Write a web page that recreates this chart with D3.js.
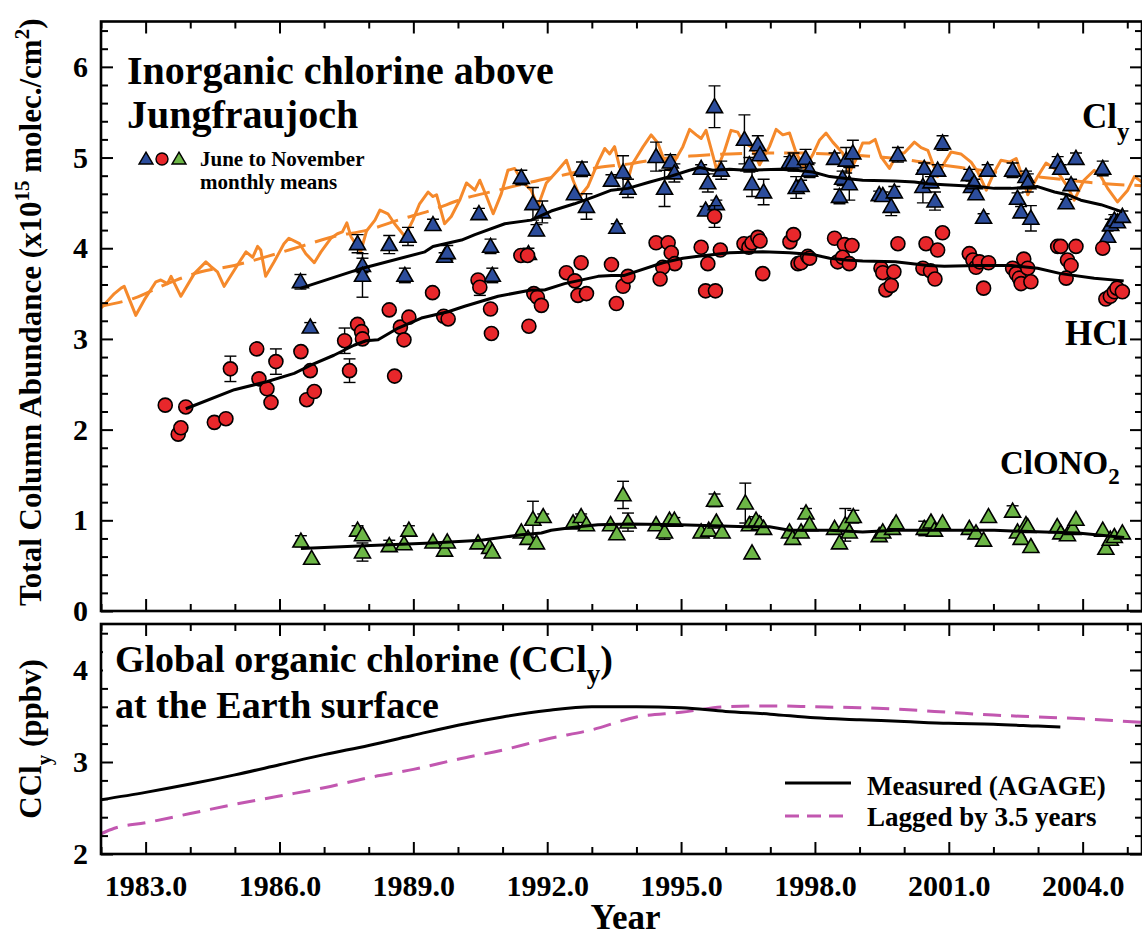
<!DOCTYPE html>
<html>
<head>
<meta charset="utf-8">
<script src="https://cdn.jsdelivr.net/npm/d3@7"></script>
<style>
  html, body { margin: 0; padding: 0; background: #ffffff; }
  svg { display: block; }
  text { font-family: "Liberation Serif", "Times New Roman", serif; font-weight: bold; fill: #000; }
</style>
</head>
<body>
<script>
// ---------- data ----------
// Jungfraujoch June–November monthly means: [decimal year, column (1e15 molec/cm2), error half-width]
const clyPoints = [
  [1986.47,3.63,0.08],[1986.69,3.13,0.05],[1987.75,4.05,0.10],[1987.86,3.81,0.08],[1987.86,3.70,0.24],
  [1988.46,4.04,0.10],[1988.81,3.70,0.08],[1988.88,4.13,0.10],[1989.44,4.26,0.06],[1989.70,3.91,0.04],
  [1989.76,3.95,0.08],[1990.47,4.38,0.06],[1990.73,4.02,0.08],[1990.77,3.70,0.08],[1991.42,4.78,0.08],
  [1991.58,3.94,0.06],[1991.68,4.49,0.18],[1991.76,4.20,0.06],[1991.89,4.40,0.12],[1992.61,4.60,0],
  [1992.78,4.87,0.08],[1992.88,4.46,0.14],[1993.44,4.75,0.06],[1993.56,4.23,0.04],[1993.70,4.84,0.18],
  [1993.81,4.66,0.10],[1994.44,5.01,0.16],[1994.63,4.66,0.20],[1994.76,4.95,0.08],[1994.85,4.83,0.10],
  [1995.45,4.88,0.04],[1995.60,4.72,0.10],[1995.55,4.42,0.04],[1995.79,4.49,0.04],[1995.75,5.56,0.23],
  [1995.90,4.86,0.10],[1996.42,5.20,0.27],[1996.53,4.92,0.08],[1996.59,4.71,0.14],[1996.72,5.14,0.10],
  [1996.77,5.03,0],[1996.85,4.62,0.14],[1997.43,4.95,0.06],[1997.52,4.95,0.10],[1997.58,4.67,0.12],
  [1997.69,4.69,0.06],[1997.79,4.99,0.10],[1997.88,4.86,0.08],[1998.44,4.99,0.06],[1998.62,4.77,0.08],
  [1998.55,4.57,0.08],[1998.70,4.97,0.14],[1998.77,4.71,0.18],[1998.85,5.05,0.14],[1999.44,4.59,0.04],
  [1999.52,4.58,0.04],[1999.71,4.46,0.10],[1999.78,4.62,0.06],[1999.86,5.03,0.08],[2000.45,4.88,0.06],
  [2000.42,4.68,0.18],[2000.60,4.73,0.06],[2000.69,4.52,0.10],[2000.86,5.16,0.08],[2000.75,4.86,0.06],
  [2001.46,4.81,0.06],[2001.51,4.68,0.06],[2001.61,4.60,0.06],[2001.57,4.72,0.04],[2001.78,4.34,0.04],
  [2001.87,4.86,0.06],[2002.43,4.86,0.08],[2002.54,4.55,0.06],[2002.62,4.40,0.06],[2002.73,4.79,0.06],
  [2002.77,4.72,0.10],[2002.84,4.33,0.14],[2003.44,4.95,0.06],[2003.51,4.88,0.04],[2003.63,4.50,0.04],
  [2003.74,4.70,0.06],[2003.85,4.99,0.06],[2004.45,4.88,0.08],[2004.56,4.13,0.06],[2004.63,4.26,0.06],
  [2004.71,4.31,0.06],[2004.78,4.29,0.06],[2004.89,4.35,0.06]
];

const hclPoints = [
  [1983.44,2.27,0],[1983.73,1.95,0],[1983.79,2.02,0],[1983.90,2.25,0],[1984.54,2.08,0],[1984.80,2.12,0],
  [1984.90,2.67,0.14],[1985.49,2.89,0],[1985.54,2.56,0],[1985.72,2.45,0],[1985.81,2.30,0],[1985.92,2.75,0.14],
  [1986.48,2.86,0],[1986.61,2.33,0],[1986.69,2.65,0],[1986.78,2.42,0],[1987.46,2.98,0.14],[1987.57,2.65,0.13],
  [1987.75,3.16,0.05],[1987.84,3.08,0],[1987.86,3.00,0],[1988.46,3.32,0],[1988.58,2.59,0.03],[1988.71,3.13,0],
  [1988.79,2.99,0],[1988.90,3.24,0],[1989.43,3.51,0],[1989.68,3.25,0],[1989.78,3.22,0],[1990.45,3.65,0],
  [1990.49,3.57,0.09],[1990.73,3.33,0],[1990.75,3.06,0],[1991.41,3.92,0],[1991.56,3.92,0],[1991.59,3.14,0],
  [1991.70,3.50,0],[1991.78,3.46,0],[1991.87,3.37,0],[1992.43,3.73,0],[1992.62,3.64,0],[1992.76,3.84,0],
  [1992.69,3.48,0],[1992.88,3.50,0],[1993.44,3.82,0],[1993.55,3.39,0],[1993.70,3.58,0],[1993.81,3.69,0],
  [1994.44,4.06,0.04],[1994.71,4.06,0],[1994.78,3.95,0],[1994.86,3.83,0],[1994.59,3.79,0],[1994.53,3.66,0],
  [1995.45,4.01,0],[1995.60,3.83,0],[1995.55,3.53,0],[1995.77,3.53,0],[1995.75,4.35,0.12],[1995.88,3.98,0],
  [1996.41,4.05,0],[1996.52,4.01,0],[1996.59,4.06,0],[1996.72,4.12,0],[1996.77,4.08,0],[1996.83,3.72,0],
  [1997.44,4.07,0],[1997.52,4.15,0],[1997.62,3.83,0],[1997.69,3.84,0],[1997.84,3.91,0],[1997.88,3.89,0],
  [1998.44,4.11,0],[1998.66,4.04,0],[1998.83,4.03,0],[1998.51,3.85,0],[1998.62,3.90,0],[1998.77,3.83,0],
  [1999.48,3.78,0],[1999.52,3.73,0],[1999.59,3.54,0],[1999.71,3.59,0],[1999.77,3.74,0],[1999.86,4.05,0],
  [2000.49,4.05,0],[2000.75,3.98,0],[2000.86,4.17,0],[2000.42,3.78,0],[2000.59,3.75,0],[2000.69,3.66,0],
  [2001.46,3.94,0],[2001.54,3.87,0],[2001.61,3.79,0],[2001.69,3.85,0],[2001.89,3.84,0],[2001.78,3.56,0],
  [2002.43,3.78,0],[2002.51,3.72,0],[2002.58,3.67,0],[2002.62,3.61,0],[2002.68,3.88,0],[2002.77,3.78,0],
  [2002.84,3.63,0],[2003.44,4.02,0],[2003.51,4.02,0],[2003.66,3.87,0],[2003.74,3.81,0],[2003.63,3.67,0],
  [2003.85,4.02,0],[2004.45,4.00,0],[2004.52,3.44,0],[2004.62,3.47,0],[2004.71,3.52,0],[2004.77,3.56,0],
  [2004.89,3.52,0]
];

const clono2Points = [
  [1986.48,0.77,0.06],[1986.72,0.58,0],[1987.75,0.89,0.05],[1987.86,0.84,0],[1987.86,0.65,0.10],
  [1988.46,0.72,0.06],[1988.79,0.74,0],[1988.90,0.89,0.05],[1989.44,0.76,0],[1989.70,0.67,0],
  [1989.76,0.76,0],[1990.45,0.75,0],[1990.71,0.70,0],[1990.77,0.65,0],[1991.42,0.87,0],
  [1991.57,0.80,0],[1991.68,1.01,0.20],[1991.76,0.75,0],[1991.91,1.04,0.03],[1992.58,0.97,0],
  [1992.76,1.04,0.03],[1992.88,0.95,0],[1993.42,0.95,0],[1993.56,0.85,0],[1993.70,1.28,0.15],
  [1993.81,0.98,0.10],[1994.44,0.95,0],[1994.63,0.87,0.08],[1994.74,1.00,0],[1994.85,1.00,0.03],
  [1995.45,0.87,0],[1995.62,0.89,0],[1995.75,1.22,0.07],[1995.79,0.98,0],[1995.92,0.87,0],
  [1996.44,1.19,0.22],[1996.53,0.95,0],[1996.59,0.64,0],[1996.68,1.00,0.04],[1996.76,0.96,0],
  [1996.85,0.91,0],[1997.43,0.87,0],[1997.50,0.80,0],[1997.69,0.87,0],[1997.80,1.08,0.05],
  [1997.88,0.95,0],[1998.44,0.91,0],[1998.55,0.75,0],[1998.68,0.95,0.18],[1998.77,0.87,0],
  [1998.86,1.04,0.07],[1999.44,0.83,0],[1999.52,0.87,0],[1999.74,0.91,0],[1999.82,0.97,0],
  [2000.45,0.91,0.08],[2000.60,0.98,0],[2000.68,0.89,0],[2000.86,0.97,0],[2001.46,0.91,0],
  [2001.61,0.86,0],[2001.78,0.78,0],[2001.89,1.04,0],[2002.43,1.10,0.06],[2002.54,0.87,0],
  [2002.62,0.80,0],[2002.73,0.95,0],[2002.77,0.93,0],[2002.84,0.71,0],[2003.43,0.93,0],
  [2003.51,0.86,0],[2003.66,0.84,0],[2003.78,0.91,0],[2003.85,1.01,0],[2004.45,0.89,0],
  [2004.52,0.69,0],[2004.62,0.79,0],[2004.71,0.82,0],[2004.89,0.86,0]
];

// running fits through the monthly means
const clyFit = [
  [1986.48,3.56],[1987.86,3.78],[1989.26,3.96],[1989.44,4.02],[1990.08,4.09],[1990.38,4.15],[1991.05,4.27],
  [1991.64,4.31],[1992.09,4.41],[1992.61,4.49],[1993.06,4.57],[1993.44,4.64],[1993.81,4.66],[1994.30,4.73],
  [1994.74,4.79],[1995.19,4.86],[1995.42,4.89],[1995.71,4.86],[1996.09,4.87],[1996.46,4.86],[1997.21,4.87],
  [1997.58,4.86],[1997.95,4.84],[1998.33,4.79],[1998.70,4.77],[1999.07,4.75],[1999.80,4.74],[2000.23,4.73],
  [2000.53,4.71],[2000.90,4.70],[2001.65,4.68],[2002.02,4.66],[2002.40,4.66],[2002.99,4.68],[2003.37,4.62],
  [2003.66,4.59],[2003.96,4.53],[2004.41,4.48],[2004.89,4.40]
];
const hclFit = [
  [1983.90,2.23],[1984.99,2.44],[1985.73,2.53],[1986.33,2.62],[1986.70,2.71],[1987.22,2.82],[1987.67,2.93],
  [1987.94,2.98],[1988.21,2.99],[1988.66,3.12],[1989.18,3.23],[1989.78,3.30],[1990.15,3.36],[1990.90,3.47],
  [1991.64,3.54],[1991.94,3.54],[1992.39,3.61],[1993.14,3.69],[1993.44,3.70],[1993.73,3.70],[1994.59,3.84],
  [1995.04,3.89],[1995.34,3.91],[1996.09,3.95],[1996.83,3.96],[1997.43,3.95],[1997.95,3.93],[1998.33,3.89],
  [1998.70,3.87],[1999.07,3.86],[1999.80,3.85],[2000.53,3.81],[2000.90,3.80],[2001.65,3.81],[2002.40,3.81],
  [2002.99,3.78],[2003.51,3.72],[2004.26,3.67],[2004.92,3.64]
];
const clono2Fit = [
  [1986.48,0.69],[1987.91,0.72],[1989.41,0.75],[1990.52,0.78],[1991.42,0.84],[1991.87,0.86],[1992.09,0.89],
  [1992.69,0.93],[1993.14,0.95],[1993.85,0.96],[1994.97,0.95],[1995.71,0.94],[1996.46,0.93],[1996.98,0.93],
  [1997.43,0.89],[1998.33,0.89],[1999.07,0.87],[1999.80,0.89],[2000.90,0.89],[2002.02,0.89],[2003.14,0.87],
  [2003.89,0.86],[2004.93,0.81]
];

// Cly expected from lagged surface organic chlorine: with seasonal cycle, and its trend
const clyModel = [
  [1982.00,3.34],[1982.30,3.50],[1982.45,3.56],[1982.52,3.58],[1982.78,3.26],[1982.97,3.43],[1983.23,3.63],
  [1983.34,3.65],[1983.49,3.61],[1983.57,3.69],[1983.79,3.47],[1984.09,3.72],[1984.35,3.85],[1984.46,3.80],
  [1984.61,3.74],[1984.76,3.58],[1985.13,3.87],[1985.25,3.96],[1985.40,3.90],[1985.51,4.02],[1985.58,3.98],
  [1985.69,3.69],[1985.88,3.85],[1986.10,4.05],[1986.21,4.11],[1986.45,4.05],[1986.59,3.94],[1986.78,3.84],
  [1986.93,3.96],[1987.15,4.11],[1987.30,4.16],[1987.41,4.18],[1987.51,4.28],[1987.60,4.13],[1987.82,3.96],
  [1987.95,4.19],[1988.14,4.31],[1988.25,4.42],[1988.43,4.38],[1988.58,4.27],[1988.81,4.13],[1988.99,4.31],
  [1989.14,4.49],[1989.33,4.62],[1989.44,4.57],[1989.52,4.59],[1989.70,4.27],[1989.85,4.35],[1990.04,4.53],
  [1990.19,4.72],[1990.38,4.64],[1990.49,4.75],[1990.64,4.57],[1990.79,4.38],[1990.97,4.60],[1991.12,4.86],
  [1991.27,4.88],[1991.45,4.73],[1991.64,4.64],[1991.79,4.46],[1991.98,4.72],[1992.24,4.86],[1992.43,4.97],
  [1992.58,4.75],[1992.73,4.57],[1992.91,4.68],[1993.14,4.95],[1993.29,5.10],[1993.40,5.04],[1993.51,5.12],
  [1993.62,4.90],[1993.81,4.75],[1993.90,4.92],[1994.00,5.00],[1994.15,5.12],[1994.33,5.25],[1994.48,5.16],
  [1994.59,5.01],[1994.74,4.86],[1994.89,4.99],[1995.04,5.12],[1995.19,5.31],[1995.34,5.25],[1995.45,5.21],
  [1995.56,5.30],[1995.71,5.03],[1995.80,4.86],[1995.97,5.07],[1996.12,5.30],[1996.27,5.28],[1996.39,5.17],
  [1996.57,5.12],[1996.76,4.92],[1996.98,5.12],[1997.13,5.31],[1997.28,5.25],[1997.43,5.27],[1997.58,5.05],
  [1997.77,4.88],[1997.95,5.03],[1998.10,5.19],[1998.25,5.27],[1998.40,5.17],[1998.62,5.05],[1998.77,4.83],
  [1998.92,4.98],[1999.07,5.16],[1999.22,5.16],[1999.35,5.20],[1999.48,5.01],[1999.67,4.88],[1999.85,5.05],
  [2000.00,5.05],[2000.23,5.17],[2000.38,5.11],[2000.53,5.08],[2000.75,4.79],[2000.90,4.94],[2001.05,5.06],
  [2001.27,5.04],[2001.50,4.95],[2001.65,4.84],[2001.84,4.64],[2002.02,4.84],[2002.17,4.97],[2002.36,4.95],
  [2002.51,4.99],[2002.62,4.83],[2002.77,4.59],[2002.99,4.79],[2003.18,4.94],[2003.37,4.88],[2003.51,4.79],
  [2003.66,4.68],[2003.81,4.53],[2004.03,4.75],[2004.26,4.86],[2004.41,4.79],[2004.56,4.66],[2004.78,4.51],
  [2005.01,4.64],[2005.16,4.79],[2005.33,4.73]
];
const clyModelTrend = [
  [1982.00,3.36],[1982.75,3.45],[1983.49,3.61],[1984.24,3.74],[1984.99,3.81],[1985.73,3.91],[1986.48,4.02],
  [1987.22,4.13],[1987.97,4.20],[1988.66,4.31],[1989.41,4.42],[1990.15,4.55],[1990.90,4.64],[1991.64,4.73],
  [1992.39,4.81],[1993.14,4.89],[1993.85,4.93],[1994.59,4.99],[1995.34,5.02],[1996.09,5.04],[1996.83,5.05],
  [1997.58,5.05],[1998.33,5.04],[1999.07,5.02],[1999.82,4.99],[2000.53,4.94],[2001.27,4.89],[2002.02,4.84],
  [2002.77,4.80],[2003.51,4.76],[2004.26,4.72],[2005.33,4.69]
];

// global surface organic chlorine (ppbv)
const cclyMeasured = [
  [1982.0,2.59],[1983.0,2.67],[1984.0,2.76],[1985.0,2.86],[1986.0,2.97],[1987.0,3.08],[1988.0,3.18],
  [1989.0,3.29],[1990.0,3.40],[1991.0,3.49],[1992.0,3.56],[1993.0,3.60],[1994.0,3.60],[1995.0,3.59],
  [1996.0,3.55],[1997.0,3.52],[1998.0,3.48],[1999.0,3.46],[2000.0,3.44],[2001.0,3.42],[2002.0,3.41],
  [2003.0,3.39],[2003.5,3.38]
];
const cclyLagged = [
  [1982.0,2.22],[1982.3,2.28],[1983.0,2.34],[1984.0,2.44],[1985.0,2.54],[1986.0,2.63],[1987.0,2.72],
  [1988.0,2.83],[1989.0,2.92],[1990.0,3.03],[1991.0,3.13],[1992.0,3.25],[1993.0,3.35],[1994.0,3.49],
  [1995.0,3.54],[1996.0,3.60],[1997.0,3.61],[1998.0,3.60],[1999.0,3.59],[2000.0,3.57],[2001.0,3.54],
  [2002.0,3.51],[2003.0,3.49],[2004.0,3.47],[2005.33,3.43]
];

// axis ticks
const yearMajor = [1983, 1986, 1989, 1992, 1995, 1998, 2001, 2004];
const yearMinor = d3.range(1982, 2006).filter(v => !yearMajor.includes(v));
const topMajor = [0, 1, 2, 3, 4, 5, 6];
const topMinor = d3.range(1, 33).map(i => +(i * 0.2).toFixed(1)).filter(v => v % 1 !== 0);
const botMajor = [2, 3, 4];
const botMinor = d3.range(11, 23).map(i => +(i * 0.2).toFixed(1)).filter(v => v % 1 !== 0);

// ---------- layout ----------
const W = 1142, H = 937;
const L = 101, R = 1142;
const topY0 = 21.5, topY1 = 611;
const botY0 = 624, botY1 = 854;

const colors = { cly: "#2c4d9c", hcl: "#e8272b", clono2: "#6cb646", model: "#f5892b", lagged: "#c257b0" };

const x = d3.scaleLinear().domain([1982, 2005.33]).range([L, R]);
const yTop = d3.scaleLinear().domain([0, 6.5]).range([topY1, topY0]);
const yBot = d3.scaleLinear().domain([2, 4.5]).range([botY1, botY0]);

const svg = d3.select("body").append("svg").attr("width", W).attr("height", H);

const defs = svg.append("defs");
defs.append("clipPath").attr("id", "clipTop")
  .append("rect").attr("x", L).attr("y", topY0).attr("width", R - L).attr("height", topY1 - topY0);
defs.append("clipPath").attr("id", "clipBot")
  .append("rect").attr("x", L).attr("y", botY0).attr("width", R - L).attr("height", botY1 - botY0);

// ---------- axes ----------
function styleAxis(g, fontSize) {
  g.select(".domain").remove();
  g.selectAll(".tick line").attr("stroke", "#000").attr("stroke-width", 2);
  g.selectAll(".tick text").style("font-size", fontSize + "px")
    .style("font-family", "'Liberation Serif', serif").style("font-weight", "bold");
}

function panelAxes(y, y0, y1, yMaj, yMin, xLabels) {
  const g = svg.append("g");
  // x ticks along bottom (pointing up) and top (pointing down)
  const xb = g.append("g").attr("transform", `translate(0,${y1})`)
    .call(d3.axisBottom(x).tickValues(yearMajor).tickSize(-12).tickPadding(21)
      .tickFormat(xLabels ? d3.format(".1f") : () => ""));
  styleAxis(xb, 30);
  xb.selectAll(".tick text").attr("dy", "0.71em");
  styleAxis(g.append("g").attr("transform", `translate(0,${y1})`)
    .call(d3.axisBottom(x).tickValues(yearMinor).tickSize(-7).tickFormat(() => "")), 30);
  styleAxis(g.append("g").attr("transform", `translate(0,${y0})`)
    .call(d3.axisTop(x).tickValues(yearMajor).tickSize(-12).tickFormat(() => "")), 30);
  styleAxis(g.append("g").attr("transform", `translate(0,${y0})`)
    .call(d3.axisTop(x).tickValues(yearMinor).tickSize(-7).tickFormat(() => "")), 30);
  // y ticks on left (labelled) and right
  styleAxis(g.append("g").attr("transform", `translate(${L},0)`)
    .call(d3.axisLeft(y).tickValues(yMaj).tickSize(-12).tickPadding(13).tickFormat(d3.format("d"))), 30);
  styleAxis(g.append("g").attr("transform", `translate(${L},0)`)
    .call(d3.axisLeft(y).tickValues(yMin).tickSize(-7).tickFormat(() => "")), 30);
  styleAxis(g.append("g").attr("transform", `translate(${R},0)`)
    .call(d3.axisRight(y).tickValues(yMaj).tickSize(-12).tickFormat(() => "")), 30);
  styleAxis(g.append("g").attr("transform", `translate(${R},0)`)
    .call(d3.axisRight(y).tickValues(yMin).tickSize(-7).tickFormat(() => "")), 30);
  g.append("rect").attr("x", L).attr("y", y0).attr("width", R - L).attr("height", y1 - y0)
    .attr("fill", "none").attr("stroke", "#000").attr("stroke-width", 2.6);
  return g;
}

// ---------- top panel ----------
const topG = svg.append("g").attr("clip-path", "url(#clipTop)");
const lineTop = d3.line().x(d => x(d[0])).y(d => yTop(d[1]));

topG.append("path").datum(clyModelTrend).attr("d", lineTop.curve(d3.curveMonotoneX))
  .attr("fill", "none").attr("stroke", colors.model).attr("stroke-width", 3)
  .attr("stroke-dasharray", "22,10");
lineTop.curve(d3.curveLinear);
topG.append("path").datum(clyModel).attr("d", lineTop)
  .attr("fill", "none").attr("stroke", colors.model).attr("stroke-width", 3)
  .attr("stroke-linejoin", "round");

function triPath(w, h) {
  return `M0,${-h * 0.58}L${w / 2},${h * 0.42}L${-w / 2},${h * 0.42}Z`;
}

function drawErrors(g, pts) {
  const eb = g.append("g").attr("stroke", "#000").attr("stroke-width", 1.4);
  pts.filter(d => d[2] > 0).forEach(d => {
    const cx = x(d[0]), yh = yTop(d[1] + d[2]), yl = yTop(d[1] - d[2]);
    eb.append("line").attr("x1", cx).attr("x2", cx).attr("y1", yh).attr("y2", yl);
    eb.append("line").attr("x1", cx - 6).attr("x2", cx + 6).attr("y1", yh).attr("y2", yh);
    eb.append("line").attr("x1", cx - 6).attr("x2", cx + 6).attr("y1", yl).attr("y2", yl);
  });
}

function drawTriangles(g, pts, fill) {
  drawErrors(g, pts);
  g.append("g").selectAll("path").data(pts).join("path")
    .attr("d", triPath(16, 14))
    .attr("transform", d => `translate(${x(d[0])},${yTop(d[1])})`)
    .attr("fill", fill).attr("stroke", "#000").attr("stroke-width", 1.6);
}
function drawCircles(g, pts, fill) {
  drawErrors(g, pts);
  g.append("g").selectAll("circle").data(pts).join("circle")
    .attr("cx", d => x(d[0])).attr("cy", d => yTop(d[1])).attr("r", 7)
    .attr("fill", fill).attr("stroke", "#000").attr("stroke-width", 1.6);
}

drawTriangles(topG, clyPoints, colors.cly);
drawCircles(topG, hclPoints, colors.hcl);
drawTriangles(topG, clono2Points, colors.clono2);

[clyFit, hclFit, clono2Fit].forEach(f => {
  topG.append("path").datum(f).attr("d", lineTop)
    .attr("fill", "none").attr("stroke", "#000").attr("stroke-width", 3).attr("stroke-linejoin", "round");
});

panelAxes(yTop, topY0, topY1, topMajor, topMinor, false);

// titles and series labels
const t1 = svg.append("g");
t1.append("text").attr("x", 127).attr("y", 84).style("font-size", "40px").text("Inorganic chlorine above");
t1.append("text").attr("x", 127).attr("y", 128).style("font-size", "40px").text("Jungfraujoch");

// legend markers for the monthly means
const lg = svg.append("g");
lg.append("path").attr("d", triPath(14, 12)).attr("transform", "translate(146,159)")
  .attr("fill", colors.cly).attr("stroke", "#000").attr("stroke-width", 1.4);
lg.append("circle").attr("cx", 162).attr("cy", 159).attr("r", 6)
  .attr("fill", colors.hcl).attr("stroke", "#000").attr("stroke-width", 1.4);
lg.append("path").attr("d", triPath(14, 12)).attr("transform", "translate(179,159)")
  .attr("fill", colors.clono2).attr("stroke", "#000").attr("stroke-width", 1.4);
lg.append("text").attr("x", 200).attr("y", 166).style("font-size", "21px").text("June to November");
lg.append("text").attr("x", 200).attr("y", 189).style("font-size", "21px").text("monthly means");

const cl = svg.append("text").attr("x", 1082).attr("y", 128).style("font-size", "35px");
cl.append("tspan").text("Cl");
cl.append("tspan").attr("dy", 12).style("font-size", "25px").text("y");
svg.append("text").attr("x", 1065).attr("y", 345).style("font-size", "35px").text("HCl");
const cn = svg.append("text").attr("x", 1000).attr("y", 474).style("font-size", "33px");
cn.append("tspan").text("ClONO");
cn.append("tspan").attr("dy", 10).style("font-size", "23px").text("2");

// ---------- bottom panel ----------
const botG = svg.append("g").attr("clip-path", "url(#clipBot)");
const lineBot = d3.line().x(d => x(d[0])).y(d => yBot(d[1])).curve(d3.curveMonotoneX);
botG.append("path").datum(cclyLagged).attr("d", lineBot)
  .attr("fill", "none").attr("stroke", colors.lagged).attr("stroke-width", 3).attr("stroke-dasharray", "18,10");
botG.append("path").datum(cclyMeasured).attr("d", lineBot)
  .attr("fill", "none").attr("stroke", "#000").attr("stroke-width", 3);

panelAxes(yBot, botY0, botY1, botMajor, botMinor, true);

const bt = svg.append("g");
bt.append("rect").attr("x", 103).attr("y", 640).attr("width", 370).attr("height", 42).attr("fill", "#fff");
const bt1 = bt.append("text").attr("x", 115).attr("y", 672).style("font-size", "38px");
bt1.append("tspan").text("Global organic chlorine (CCl");
bt1.append("tspan").attr("dy", 11).style("font-size", "27px").text("y");
bt1.append("tspan").attr("dy", -11).text(")");
bt.append("text").attr("x", 115).attr("y", 718).style("font-size", "38px").text("at the Earth surface");

// legend for the surface curves
const bl = svg.append("g");
bl.append("line").attr("x1", 785).attr("x2", 851).attr("y1", 783).attr("y2", 783)
  .attr("stroke", "#000").attr("stroke-width", 3);
bl.append("line").attr("x1", 785).attr("x2", 851).attr("y1", 816).attr("y2", 816)
  .attr("stroke", colors.lagged).attr("stroke-width", 3).attr("stroke-dasharray", "14,8");
bl.append("text").attr("x", 867).attr("y", 795).style("font-size", "27px").text("Measured (AGAGE)");
bl.append("text").attr("x", 867).attr("y", 826).style("font-size", "27px").text("Lagged by 3.5 years");

// ---------- axis titles ----------
svg.append("text").attr("x", (L + R) / 2 + 4).attr("y", 929).attr("text-anchor", "middle")
  .style("font-size", "35px").text("Year");

const yl1 = svg.append("text").attr("transform", `translate(41,${(topY0 + topY1) / 2 - 4}) rotate(-90)`)
  .attr("text-anchor", "middle").style("font-size", "31px");
yl1.append("tspan").text("Total Column Abundance (x10");
yl1.append("tspan").attr("dy", -12).style("font-size", "21px").text("15");
yl1.append("tspan").attr("dy", 12).text(" molec./cm");
yl1.append("tspan").attr("dy", -12).style("font-size", "21px").text("2");
yl1.append("tspan").attr("dy", 12).text(")");

const yl2 = svg.append("text").attr("transform", `translate(41,${(botY0 + botY1) / 2}) rotate(-90)`)
  .attr("text-anchor", "middle").style("font-size", "31px");
yl2.append("tspan").text("CCl");
yl2.append("tspan").attr("dy", 10).style("font-size", "21px").text("y");
yl2.append("tspan").attr("dy", -10).text(" (ppbv)");
</script>
</body>
</html>
